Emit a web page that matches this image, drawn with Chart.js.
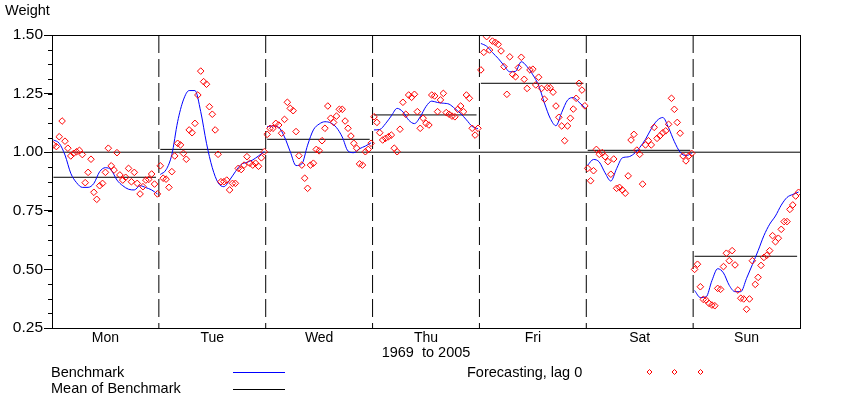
<!DOCTYPE html>
<html><head><meta charset="utf-8">
<script src="https://cdn.jsdelivr.net/npm/chart.js@4.4.1/dist/chart.umd.min.js"></script>
<style>
html,body{margin:0;padding:0;background:#fff;}
#wrap{position:relative;width:858px;height:401px;font-family:"Liberation Sans",Arial,sans-serif;color:#000;overflow:hidden;}
#wrap canvas{position:absolute;left:0;top:0;}
.t{position:absolute;font-size:14.5px;line-height:1;white-space:pre;}
.ln{position:absolute;height:0;border-top:1px solid;}
svg{position:absolute;left:0;top:0;}
</style></head><body>
<div id="wrap">
<canvas id="c" width="858" height="401"></canvas>
<div class="t" style="left:5px;top:3px">Weight</div>
<div class="t" style="left:51px;top:364.5px">Benchmark</div>
<div class="t" style="left:51px;top:381px">Mean of Benchmark</div>
<div class="t" style="left:467px;top:365px">Forecasting, lag 0</div>
<div class="ln" style="left:233px;top:371.5px;width:52px;border-color:#0000ff"></div>
<div class="ln" style="left:233px;top:388.5px;width:52px;border-color:#000"></div>
<svg width="858" height="401">
  <polygon points="649.5,369.5 652,372 649.5,374.5 647,372" fill="none" stroke="#ff0000" stroke-width="1"/>
  <polygon points="674.5,369.5 677,372 674.5,374.5 672,372" fill="none" stroke="#ff0000" stroke-width="1"/>
  <polygon points="700.5,369.5 703,372 700.5,374.5 698,372" fill="none" stroke="#ff0000" stroke-width="1"/>
</svg>
</div>
<script>
const days = ['Mon','Tue','Wed','Thu','Fri','Sat','Sun'];
const yTickValues = [0.25, 0.50, 0.75, 1.00, 1.25, 1.50];
const yMinorStep = 0.0625;
const referenceLevel = 1.00;
const nYears = 37;          // 1969 .. 2005
const benchStep = 2;        // benchmark read every 2nd year
const xTitle = '1969  to 2005';

// Mean of Benchmark per day
const benchMean = [0.893, 1.012, 1.055, 1.159, 1.294, 1.008, 0.556];

// Benchmark (smooth curve), values at years 1969,1971,...,2005
const benchMon = [1.052,1.038,0.988,0.910,0.870,0.850,0.850,0.867,0.917,0.934,0.924,0.881,0.857,0.842,0.839,0.857,0.849,0.839,0.822];
const benchTue = [0.905,0.925,0.990,1.130,1.223,1.263,1.263,1.173,1.038,0.934,0.870,0.853,0.881,0.917,0.948,0.957,0.967,0.984,1.002];
const benchWed = [1.109,1.112,1.106,1.065,1.002,0.943,0.950,1.030,1.095,1.120,1.130,1.125,1.105,1.065,1.005,0.998,1.015,1.026,1.040];
const benchThu = [1.095,1.097,1.122,1.155,1.187,1.172,1.137,1.122,1.151,1.195,1.218,1.212,1.209,1.205,1.186,1.165,1.138,1.110,1.100];
const benchFri = [1.464,1.452,1.425,1.400,1.370,1.343,1.345,1.386,1.365,1.330,1.285,1.210,1.145,1.113,1.170,1.222,1.233,1.213,1.190];
const benchSat = [0.945,0.969,0.958,0.912,0.877,0.930,0.976,0.980,0.993,1.020,1.055,1.100,1.135,1.148,1.104,1.045,1.000,0.985,0.995];
const benchSun = [0.410,0.380,0.383,0.452,0.503,0.485,0.432,0.405,0.405,0.462,0.520,0.580,0.644,0.693,0.728,0.774,0.807,0.820,0.830];

// Forecasting, lag 0 (one point per year)
const fcMon = [1.031,1.024,1.066,1.133,1.047,1.017,0.984,0.995,1.002,1.008,0.990,0.870,0.914,0.970,0.829,0.799,0.857,0.867,0.914,1.017,0.942,0.924,0.998,0.903,0.881,0.893,0.931,0.874,0.914,0.867,0.822,0.853,0.881,0.884,0.907,0.864,0.822];
const fcTue = [0.942,0.889,0.885,0.850,0.917,0.984,1.038,1.031,0.995,0.970,1.095,1.083,1.123,1.244,1.346,1.301,1.290,1.194,1.162,1.095,0.991,0.874,0.874,0.881,0.839,0.867,0.867,0.931,0.926,0.945,0.981,0.953,0.945,0.953,0.940,0.976,1.002];
const fcWed = [1.076,1.102,1.102,1.123,1.116,1.081,1.140,1.213,1.187,1.177,1.088,0.985,0.945,0.889,0.846,0.945,0.953,1.012,1.006,1.049,1.102,1.197,1.145,1.127,1.154,1.183,1.183,1.133,1.102,1.069,1.038,1.017,0.950,0.945,1.002,1.012,1.038];
const fcThu = [1.151,1.127,1.083,1.052,1.059,1.066,1.073,1.017,1.002,1.098,1.213,1.162,1.244,1.234,1.247,1.173,1.102,1.145,1.123,1.116,1.244,1.240,1.173,1.223,1.251,1.169,1.162,1.154,1.151,1.183,1.197,1.173,1.244,1.230,1.102,1.073,1.102];
const fcFri = [1.351,1.426,1.493,1.436,1.474,1.469,1.460,1.432,1.365,1.247,1.407,1.332,1.322,1.361,1.405,1.311,1.272,1.351,1.354,1.287,1.320,1.272,1.226,1.275,1.275,1.256,1.197,1.149,1.112,1.049,1.112,1.145,1.184,1.230,1.294,1.265,1.198];
const fcSat = [0.931,0.878,0.921,1.012,0.991,0.998,0.981,0.960,0.906,0.971,0.846,0.850,0.839,0.825,0.899,1.052,1.076,1.009,0.991,0.864,1.031,1.049,1.031,1.106,1.059,1.070,1.083,1.091,1.119,1.230,1.183,1.127,1.081,0.984,0.963,0.984,0.995];
const fcSun = [0.500,0.522,0.426,0.372,0.369,0.355,0.348,0.345,0.419,0.415,0.512,0.569,0.537,0.580,0.519,0.412,0.377,0.374,0.330,0.374,0.537,0.436,0.466,0.517,0.551,0.560,0.580,0.644,0.618,0.633,0.671,0.704,0.704,0.756,0.775,0.813,0.829];

const benchmark = [benchMon, benchTue, benchWed, benchThu, benchFri, benchSat, benchSun];
const forecast = [fcMon, fcTue, fcWed, fcThu, fcFri, fcSat, fcSun];

const datasets = [];
const yMin = yTickValues[0], yMax = yTickValues[yTickValues.length - 1];

// benchmark curves
benchmark.forEach((arr, d) => {
  datasets.push({
    type: 'line',
    data: arr.map((v, k) => ({ x: d + (k * benchStep + 0.5) / nYears, y: v })),
    borderColor: '#0000ff', borderWidth: 1, pointRadius: 0,
    cubicInterpolationMode: 'monotone', fill: false, order: 1
  });
});
// mean lines
benchMean.forEach((m, d) => {
  datasets.push({
    type: 'line',
    data: [{ x: d + 0.5 / nYears, y: m }, { x: d + (nYears - 1) / nYears, y: m }],
    borderColor: '#000', borderWidth: 1, pointRadius: 0, fill: false, order: 2
  });
});
// reference 1.00 line
datasets.push({
  type: 'line',
  data: [{ x: 0, y: referenceLevel }, { x: days.length, y: referenceLevel }],
  borderColor: '#000', borderWidth: 1, pointRadius: 0, fill: false, order: 2
});
// day separators
for (let d = 1; d < days.length; d++) {
  datasets.push({
    type: 'line',
    data: [{ x: d, y: yMax }, { x: d, y: yMin }],
    borderColor: '#000', borderWidth: 1, borderDash: [18, 6], pointRadius: 0, fill: false, order: 3
  });
}
// forecasting points
forecast.forEach((arr, d) => {
  datasets.push({
    type: 'scatter',
    data: arr.map((v, i) => ({ x: d + (i + 0.5) / arr.length, y: v })),
    pointStyle: 'rectRot', pointRadius: 3.3, borderColor: '#ff0000',
    backgroundColor: 'rgba(0,0,0,0)', borderWidth: 1, order: 0
  });
});

const framePlugin = {
  id: 'frame',
  afterDatasetsDraw(chart) {
    const { ctx, chartArea: a, scales: { y } } = chart;
    ctx.save();
    ctx.strokeStyle = '#000';
    ctx.lineWidth = 1;
    ctx.setLineDash([]);
    ctx.strokeRect(Math.round(a.left) + 0.5, Math.round(a.top) + 0.5,
                   Math.round(a.right - a.left), Math.round(a.bottom - a.top));
    for (let v = y.min; v <= y.max + 1e-9; v += yMinorStep) {
      const py = Math.round(y.getPixelForValue(v)) + 0.5;
      ctx.beginPath();
      ctx.moveTo(a.left - 4, py);
      ctx.lineTo(a.left, py);
      ctx.stroke();
    }
    ctx.restore();
  }
};

Chart.defaults.font.family = '"Liberation Sans", Arial, sans-serif';
Chart.defaults.color = '#000';

new Chart(document.getElementById('c'), {
  data: { datasets },
  options: {
    responsive: false,
    animation: false,
    events: [],
    layout: { padding: { top: 35, left: 0, right: 58, bottom: 39 } },
    plugins: { legend: { display: false }, tooltip: { enabled: false } },
    scales: {
      x: {
        type: 'linear', position: 'bottom', min: 0, max: days.length,
        afterBuildTicks: s => { s.ticks = days.map((_, i) => ({ value: i + 0.5 })); },
        afterFit: s => { s.height = 34; },
        ticks: { callback: v => days[Math.floor(v)], autoSkip: false, maxRotation: 0, padding: 2,
                 font: { size: 14 }, color: '#000' },
        grid: { display: false, drawTicks: false },
        border: { display: true, color: '#000', width: 1 },
        title: { display: true, text: xTitle, font: { size: 14.5 }, color: '#000', padding: 0 }
      },
      y: {
        type: 'linear', position: 'left', min: yMin, max: yMax,
        afterBuildTicks: s => { s.ticks = yTickValues.map(v => ({ value: v })); },
        afterFit: s => { s.width = 52; },
        ticks: { callback: v => Number(v).toFixed(2), autoSkip: false, padding: 1,
                 font: { size: 15.5 }, color: '#000' },
        grid: { display: true, drawOnChartArea: false, drawTicks: true, tickLength: 8,
                tickColor: '#000', color: '#000' },
        border: { display: true, color: '#000', width: 1 }
      }
    }
  },
  plugins: [framePlugin]
});
</script>
</body></html>
